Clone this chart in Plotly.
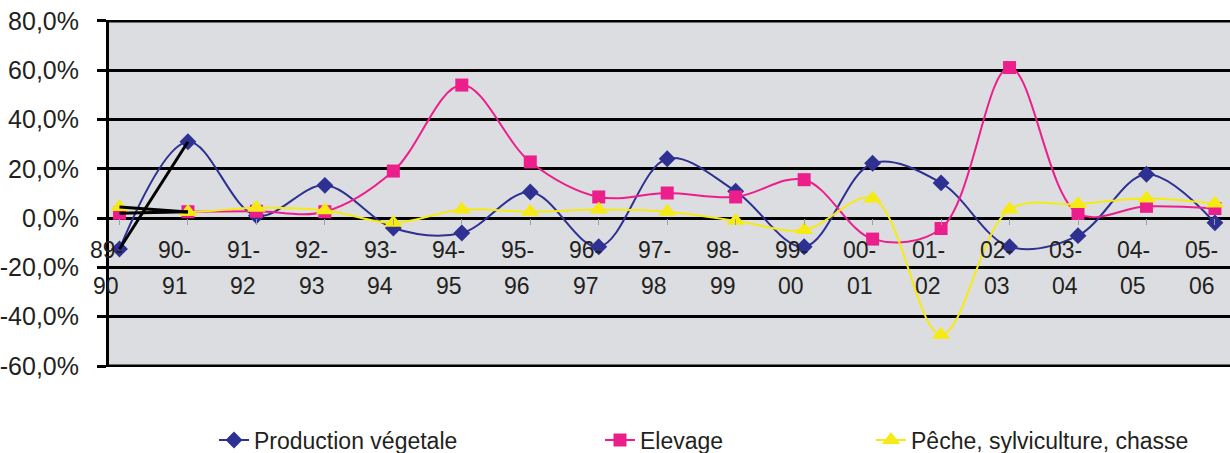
import plotly.graph_objects as go

# Campaign years (agricultural seasons)
categories = ["89-90", "90-91", "91-92", "92-93", "93-94", "94-95", "95-96", "96-97",
              "97-98", "98-99", "99-00", "00-01", "01-02", "02-03", "03-04", "04-05", "05-06"]

# Annual growth rates (%)
production_vegetale = [-12.5, 31.0, 1.0, 13.3, -4.0, -6.0, 10.6, -11.6, 24.1,
                       10.9, -11.6, 22.3, 14.3, -11.6, -7.1, 17.8, -1.9]
elevage = [2.0, 2.6, 2.8, 2.6, 19.1, 54.0, 22.8, 8.6, 10.2,
           8.6, 15.6, -8.5, -4.2, 61.1, 1.9, 4.8, 3.9]
peche = [4.5, 2.5, 4.2, 3.2, -1.9, 3.5, 2.6, 3.5, 2.6,
         -1.1, -4.8, 8.0, -47.3, 3.5, 5.7, 8.0, 5.9]

y_ticks = [80, 60, 40, 20, 0, -20, -40, -60]
y_tick_text = ["80,0%", "60,0%", "40,0%", "20,0%", "0,0%", "-20,0%", "-40,0%", "-60,0%"]

series = [
    ("Production végetale", production_vegetale, "#2E3192", "diamond", 13, "legend"),
    ("Elevage", elevage, "#EC1E8C", "square", 13, "legend2"),
    ("Pêche, sylviculture, chasse", peche, "#F5EA14", "triangle-up", 16, "legend3"),
]

fig = go.Figure()

for name, vals, color, symbol, size, leg in series:
    fig.add_trace(go.Scatter(
        x=categories, y=vals, name=name, mode="lines+markers",
        line=dict(color=color, width=2, shape="spline", smoothing=1.0),
        marker=dict(symbol=symbol, size=size, color=color, line=dict(width=0)),
        legend=leg, cliponaxis=False,
    ))

# first season segment of each series is drawn in black
for name, vals, color, symbol, size, leg in series:
    fig.add_trace(go.Scatter(
        x=categories[:2], y=vals[:2], mode="lines",
        line=dict(color="black", width=3),
        showlegend=False, hoverinfo="skip",
    ))

# two-row category labels sitting just below the zero line
label_font = dict(family="Liberation Sans, Arial, sans-serif", size=23, color="#231F20")
for cat in categories:
    top, bottom = cat.split("-")
    fig.add_annotation(x=cat, y=0, xref="x", yref="y", text=top + "-", showarrow=False,
                       yanchor="middle", yshift=-32, xshift=-13, font=label_font)
    fig.add_annotation(x=cat, y=0, xref="x", yref="y", text=bottom, showarrow=False,
                       yanchor="middle", yshift=-68, xshift=-13, font=label_font)

# outer gridlines at the top and bottom of the value range
for edge in (y_ticks[0], y_ticks[-1]):
    fig.add_shape(type="line", xref="paper", yref="y", x0=0, x1=1, y0=edge, y1=edge,
                  line=dict(color="black", width=3), layer="below")

legend_common = dict(orientation="h", yanchor="middle", xanchor="left",
                     xref="container", yref="container", y=13 / 453,
                     bgcolor="rgba(0,0,0,0)", borderwidth=0,
                     font=dict(family="Liberation Sans, Arial, sans-serif", size=23, color="#231F20"))

n = len(categories)
fig.update_layout(
    width=1230, height=453,
    margin=dict(l=109, r=0, t=20, b=86, autoexpand=False),
    paper_bgcolor="white",
    plot_bgcolor="#DCDDE0",
    showlegend=True,
    legend=dict(x=214 / 1230, **legend_common),
    legend2=dict(x=600 / 1230, **legend_common),
    legend3=dict(x=871 / 1230, **legend_common),
    xaxis=dict(
        type="category", range=[-0.153, n - 1 + 0.22],
        anchor="free", position=60.4 / 140.8,
        showgrid=False, zeroline=False, showline=False,
        showticklabels=False, ticks="outside", ticklen=6, tickwidth=1, tickcolor="#A0A0A0",
    ),
    yaxis=dict(
        range=[-60.4, 80.4], tickvals=y_ticks, ticktext=y_tick_text,
        automargin=False,
        showgrid=True, gridcolor="black", gridwidth=3,
        zeroline=False,
        showline=True, linecolor="black", linewidth=3,
        ticks="outside", ticklen=9, tickwidth=3, tickcolor="black",
        ticklabelstandoff=13,
        tickfont=dict(family="Liberation Sans, Arial, sans-serif", size=25, color="#231F20"),
    ),
)

fig.write_html("out.html")
